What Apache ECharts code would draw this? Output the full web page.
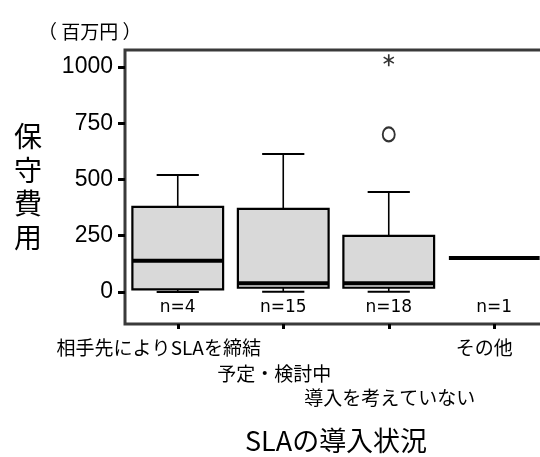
<!DOCTYPE html>
<html>
<head>
<meta charset="utf-8">
<script src="https://cdn.jsdelivr.net/npm/echarts@6/dist/echarts.min.js"></script>
<style>
  html, body { margin: 0; padding: 0; background: #fff; }
  #chart { width: 540px; height: 457px; }
</style>
</head>
<body>
<div id="chart"></div>
<script>
// Maintenance cost (million yen) by SLA adoption status
const categories = ['相手先によりSLAを締結', '予定・検討中', '導入を考えていない', 'その他'];
// five-number summaries: [low whisker, Q1, median, Q3, high whisker]
const lowWhisker = [0, 1, 1, 151];
const q1Values = [12, 19, 19, 151];
const medianValues = [139, 39, 39, 151];
const q3Values = [378, 369, 249, 151];
const highWhisker = [520, 613, 444, 151];
const sampleCounts = [4, 15, 18, 1];
// outliers of the third group
const circleOutliers = [[2, 700]];
const extremeOutliers = [[2, 1030]];
const yTickValues = [0, 250, 500, 750, 1000];

const CJK = '"Noto Sans CJK JP", "Noto Sans CJK SC", sans-serif';
const NUM = '"Liberation Sans", Arial, sans-serif';

const boxData = categories.map((c, i) => [i, lowWhisker[i], q1Values[i], medianValues[i], q3Values[i], highWhisker[i], sampleCounts[i]]);

// asterisk made of three thin bars
const asteriskPath = 'path://M-0.7,-5L0.7,-5L0.7,5L-0.7,5Z' +
  'M-4.68,-1.89L-3.98,-3.11L4.68,1.89L3.98,3.11Z' +
  'M3.98,-3.11L4.68,-1.89L-3.98,3.11L-4.68,1.89Z';

function renderBox(params, api) {
  const i = api.value(0);
  const low = api.value(1), q1 = api.value(2), med = api.value(3), q3 = api.value(4), high = api.value(5);
  const n = api.value(6);
  const band = api.size([1, 0])[0];
  const boxW = band * 0.86;
  const capW = band * 0.4;
  const pLow = api.coord([i, low]);
  const pQ1 = api.coord([i, q1]);
  const pMed = api.coord([i, med]);
  const pQ3 = api.coord([i, q3]);
  const pHigh = api.coord([i, high]);
  const pZero = api.coord([i, 0]);
  const x = pMed[0];
  const line = (x1, y1, x2, y2, w) => ({
    type: 'line',
    shape: { x1, y1, x2, y2 },
    style: { stroke: '#000', lineWidth: w }
  });
  const children = [];
  if (n > 1) {
    children.push(line(x, pQ3[1], x, pHigh[1], 1.6));
    children.push(line(x - capW / 2, pHigh[1], x + capW / 2, pHigh[1], 2));
    children.push(line(x, pQ1[1], x, pLow[1], 1.6));
    children.push(line(x - capW / 2, pLow[1], x + capW / 2, pLow[1], 2));
    children.push({
      type: 'rect',
      shape: { x: x - boxW / 2, y: pQ3[1], width: boxW, height: pQ1[1] - pQ3[1] },
      style: { fill: '#d9d9d9', stroke: '#000', lineWidth: 2.2 }
    });
  }
  children.push(line(x - boxW / 2, pMed[1], x + boxW / 2, pMed[1], 4));
  children.push({
    type: 'text',
    style: {
      text: 'n=' + n,
      x: x,
      y: pZero[1] + 16,
      align: 'center',
      verticalAlign: 'middle',
      fontSize: 17,
      fontFamily: '"DejaVu Sans", sans-serif',
      fill: '#000'
    }
  });
  return { type: 'group', children };
}

// staggered category labels
const labelRich = {
  l0: { padding: [0, 38, 0, 0] },
  l1: { padding: [52, 18, 0, 0] },
  l2: { padding: [100, 0, 0, 2] },
  l3: { padding: [0, 20, 0, 0] }
};
Object.values(labelRich).forEach(r => {
  r.fontSize = 19; r.lineHeight = 20; r.fontFamily = CJK; r.color = '#000';
});

const chart = echarts.init(document.getElementById('chart'), null, { renderer: 'canvas' });
chart.setOption({
  animation: false,
  backgroundColor: '#fff',
  title: {
    text: '（ 百万円 ）',
    left: 33,
    top: 17,
    textStyle: { fontSize: 19, fontWeight: 'normal', fontFamily: CJK, color: '#000' }
  },
  grid: {
    left: 125, top: 50, width: 422, bottom: 133,
    outerBoundsMode: 'none',
    containLabel: false,
    show: true, borderColor: '#3a3a3a', borderWidth: 3, backgroundColor: 'transparent'
  },
  xAxis: {
    type: 'category',
    data: categories,
    boundaryGap: true,
    name: 'SLAの導入状況',
    nameLocation: 'middle',
    nameGap: 103,
    nameTextStyle: { fontSize: 27, fontFamily: CJK, color: '#000' },
    axisLine: { show: false, onZero: false },
    axisTick: { show: true, alignWithLabel: true, length: 5, lineStyle: { width: 3, color: '#000' } },
    axisLabel: {
      interval: 0,
      margin: 14,
      hideOverlap: false,
      formatter: (v, i) => '{l' + i + '|' + v + '}',
      rich: labelRich
    },
    splitLine: { show: false }
  },
  yAxis: {
    type: 'value',
    min: -142,
    max: 1075,
    name: '保\n守\n費\n用',
    nameLocation: 'middle',
    nameRotate: 0,
    nameGap: 83,
    nameTextStyle: { fontSize: 28, lineHeight: 33.5, fontFamily: CJK, color: '#000' },
    axisLine: { show: false },
    axisTick: { show: true, length: 7, customValues: yTickValues, lineStyle: { width: 3, color: '#000' } },
    axisLabel: {
      customValues: yTickValues,
      formatter: v => String(v),
      margin: 12,
      fontSize: 23,
      fontFamily: NUM,
      color: '#000',
      padding: [6, 0, 0, 0]
    },
    splitLine: { show: false }
  },
  series: [
    {
      type: 'custom',
      renderItem: renderBox,
      data: boxData,
      encode: { x: 0, y: [1, 2, 3, 4, 5] },
      clip: false
    },
    {
      type: 'scatter',
      data: circleOutliers,
      symbol: 'emptyCircle',
      symbolSize: [12, 14],
      itemStyle: { color: '#000', borderColor: '#000', borderWidth: 1.8 }
    },
    {
      type: 'scatter',
      data: extremeOutliers,
      symbol: asteriskPath,
      symbolSize: [11, 12],
      itemStyle: { color: '#000', borderWidth: 0 }
    }
  ]
});
</script>
</body>
</html>
